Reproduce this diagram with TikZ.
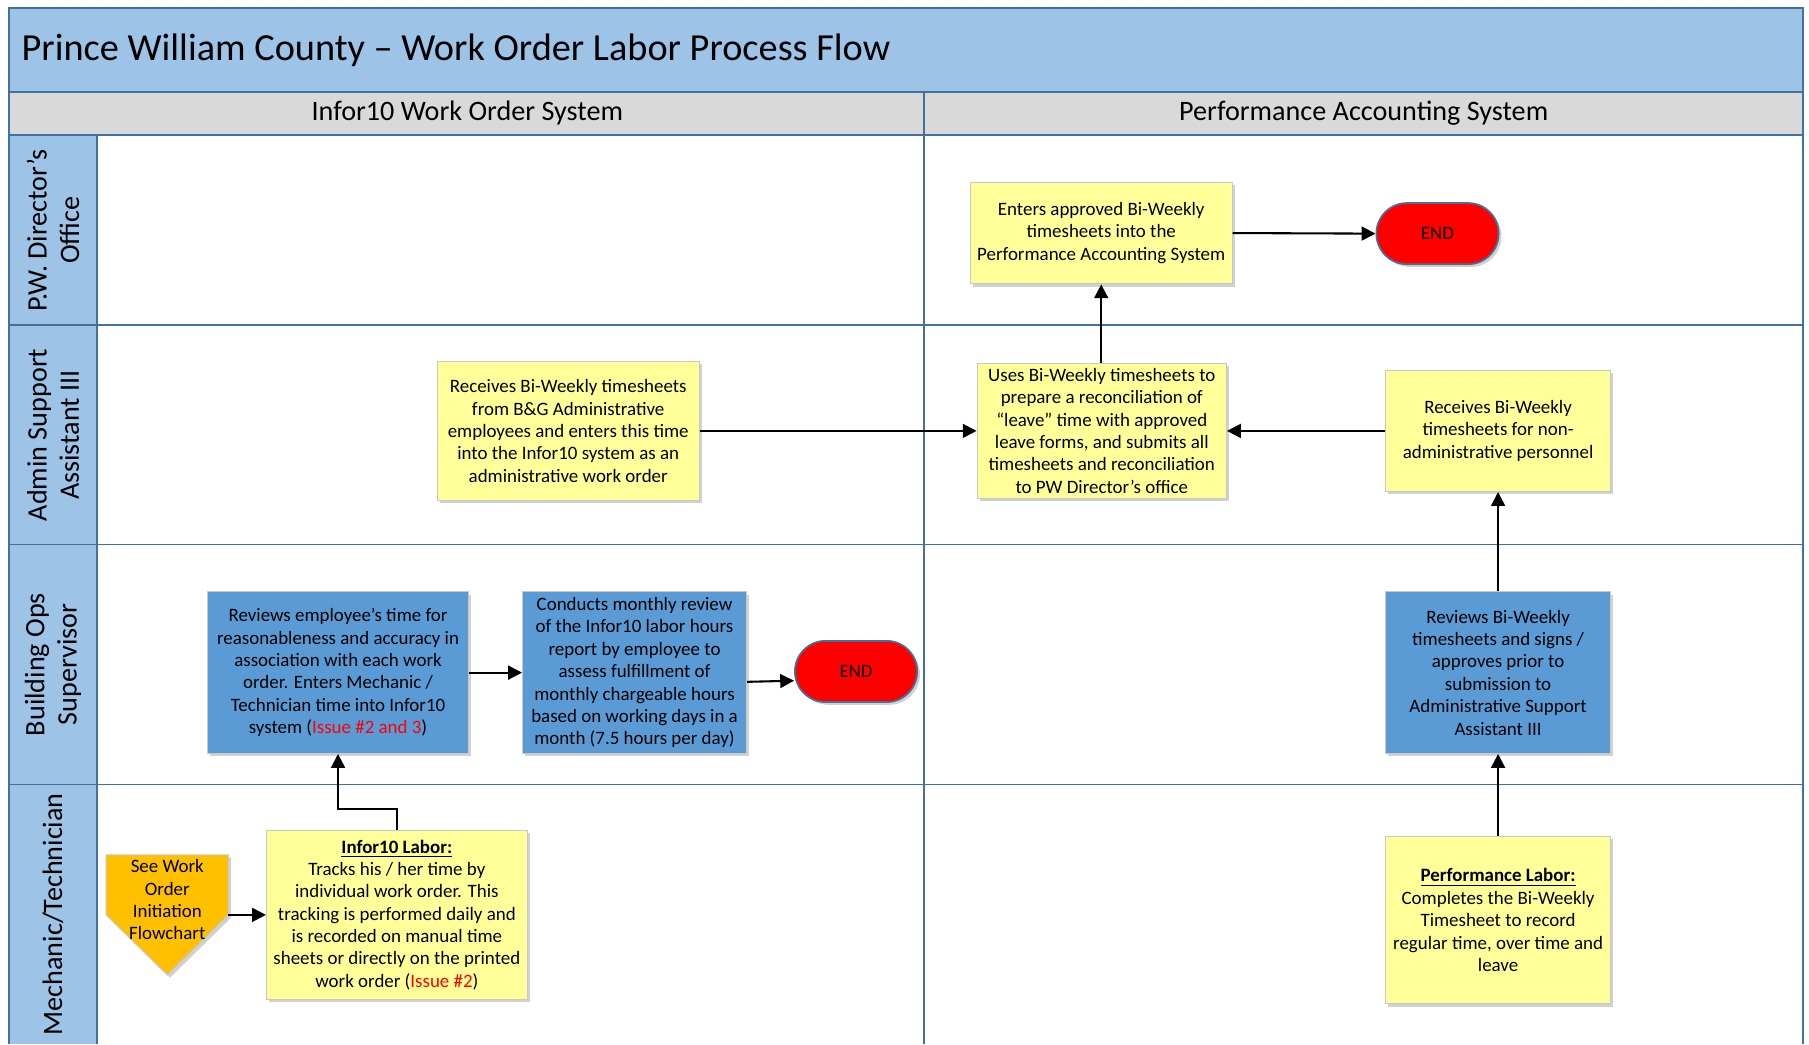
\documentclass[tikz,border=0pt]{standalone}
\usepackage{fontspec}
\setmainfont{Carlito}
\usetikzlibrary{shadows,arrows.meta,shapes.misc}

\definecolor{laneblue}{RGB}{157,195,230}
\definecolor{framecol}{RGB}{65,113,156}
\definecolor{headgray}{RGB}{217,217,217}
\definecolor{noteyellow}{RGB}{255,255,153}
\definecolor{stepblue}{RGB}{91,155,213}
\definecolor{endred}{RGB}{255,0,0}
\definecolor{offpage}{RGB}{255,192,0}
\definecolor{boxline}{RGB}{200,200,200}
\definecolor{issuered}{RGB}{255,0,0}

\tikzset{every picture/.style={line width=0.75pt}}
\tikzset{
	boxfont/.style={font=\fontsize{8.2}{9.7}\selectfont},
	lanefont/.style={font=\fontsize{12.2}{14}\selectfont},
	flowbox/.style={boxfont, align=center, inner sep=0pt, line width=0.5pt, draw=boxline,
		drop shadow={shadow xshift=1.2pt, shadow yshift=-1.2pt, opacity=0.18, fill=black}},
	yellowbox/.style={flowbox, fill=noteyellow},
	bluebox/.style={flowbox, fill=stepblue},
	endbox/.style={rounded rectangle, draw=framecol, fill=endred, line width=0.75pt, boxfont,
		minimum width=53pt, minimum height=26.5pt, inner sep=0pt,
		drop shadow={shadow xshift=1.2pt, shadow yshift=-1.2pt, opacity=0.18, fill=black}},
	flowarrow/.style={-{Triangle[length=6pt,width=6pt]}, line width=0.9pt}
}

\begin{document}
\begin{tikzpicture}[x=0.5pt,y=0.5pt,yscale=-1,xscale=1]
	\useasboundingbox (0,0) rectangle (1568,905);

	%Shape: Title band and header row
	\fill [laneblue] (8,7) rectangle (1563,80);
	\fill [headgray] (8,80) rectangle (1563,117);
	\fill [laneblue] (8,117) rectangle (84,905);
	%Straight Lines: swimlane frame
	\draw [framecol, line width=1pt] (8,905) -- (8,7) -- (1563,7) -- (1563,905);
	\draw [framecol] (8,80) -- (1563,80);
	\draw [framecol] (8,117) -- (1563,117);
	\draw [framecol] (8,282) -- (1563,282);
	\draw [framecol] (8,472) -- (1563,472);
	\draw [framecol] (8,680) -- (1563,680);
	\draw [framecol] (84,117) -- (84,905);
	\draw [framecol] (801,80) -- (801,905);

	% Text Node
	\node [anchor=west, inner sep=0pt, font=\fontsize{16.6}{19}\selectfont] (title) at (18,44) {Prince William County -- Work Order Labor Process Flow};
	% Text Node
	\node [lanefont] (infor) at (405,98) {Infor10 Work Order System};
	% Text Node
	\node [lanefont] (perf) at (1182,98) {Performance Accounting System};
	% Text Node
	\node [lanefont, rotate=90, align=center] (lanepw) at (46,199.5) {P.W. Director’s\\Office};
	% Text Node
	\node [lanefont, rotate=90, align=center] (laneadmin) at (46,377) {Admin Support\\Assistant III};
	% Text Node
	\node [lanefont, rotate=90, align=center] (laneops) at (46,576) {Building Ops\\Supervisor};
	% Text Node
	\node [lanefont, rotate=90, align=center] (lanemech) at (46,792.5) {Mechanic/Technician};

	%Shape: P.W. Director's Office lane
	\node [yellowbox, minimum width=113.5pt, minimum height=44pt] (enters) at (954.5,202)
		{Enters approved Bi-Weekly\\timesheets into the\\Performance Accounting System};
	\node [endbox] (endtop) at (1246,202.5) {END};

	%Shape: Admin Support Assistant III lane
	\node [yellowbox, minimum width=113.5pt, minimum height=60.5pt] (recvbg) at (492.5,373.5)
		{Receives Bi-Weekly timesheets\\from B\&G Administrative\\employees and enters this time\\into the Infor10 system as an\\administrative work order};
	\node [yellowbox, minimum width=108pt, minimum height=58.5pt] (uses) at (955,373.5)
		{Uses Bi-Weekly timesheets to\\prepare a reconciliation of\\“leave” time with approved\\leave forms, and submits all\\timesheets and reconciliation\\to PW Director’s office};
	\node [yellowbox, minimum width=97.5pt, minimum height=52.5pt] (recvna) at (1298.5,373.5)
		{Receives Bi-Weekly\\timesheets for non-\\administrative personnel};

	%Shape: Building Ops Supervisor lane
	\node [bluebox, minimum width=113pt, minimum height=70pt] (reviewemp) at (293,583)
		{Reviews employee’s time for\\reasonableness and accuracy in\\association with each work\\order. Enters Mechanic /\\Technician time into Infor10\\system (\textcolor{issuered}{Issue \#2 and 3})};
	\node [bluebox, minimum width=97pt, minimum height=70pt] (conducts) at (550,583)
		{Conducts monthly review\\of the Infor10 labor hours\\report by employee to\\assess fulfillment of\\monthly chargeable hours\\based on working days in a\\month (7.5 hours per day)};
	\node [endbox] (endmid) at (742,582) {END};
	\node [bluebox, minimum width=97.5pt, minimum height=70pt] (reviewbw) at (1298.5,583)
		{Reviews Bi-Weekly\\timesheets and signs /\\approves prior to\\submission to\\Administrative Support\\Assistant III};

	%Shape: Mechanic/Technician lane
	\draw [fill=offpage, draw=boxline, line width=0.5pt,
		drop shadow={shadow xshift=1.2pt, shadow yshift=-1.2pt, opacity=0.18, fill=black}]
		(92,741) -- (198,741) -- (198,793) -- (145,845) -- (92,793) -- cycle;
	\node [boxfont, align=center] (seewo) at (145,780) {See Work\\Order\\Initiation\\Flowchart};
	\coordinate (seewo-out) at (198,793);
	\node [yellowbox, minimum width=113pt, minimum height=73pt] (inforlab) at (344,793)
		{\textbf{\underline{Infor10 Labor:}}\\Tracks his / her time by\\individual work order. This\\tracking is performed daily and\\is recorded on manual time\\sheets or directly on the printed\\work order (\textcolor{issuered}{Issue \#2})};
	\node [yellowbox, minimum width=97.5pt, minimum height=72.5pt] (perflab) at (1298.5,797.5)
		{\textbf{\underline{Performance Labor:}}\\Completes the Bi-Weekly\\Timesheet to record\\regular time, over time and\\leave};

	%Straight Lines: connectors
	\draw [flowarrow] (enters.east) -- (endtop.west);
	\draw [flowarrow] (uses.north -| enters.south) -- (enters.south);
	\draw [flowarrow] (recvbg.east) -- (uses.west);
	\draw [flowarrow] (recvna.west) -- (uses.east);
	\draw [flowarrow] (reviewbw.north) -- (recvna.south);
	\draw [flowarrow] (perflab.north) -- (reviewbw.south);
	\draw [flowarrow] (reviewemp.east) -- (conducts.west);
	\draw [flowarrow] ([yshift=4pt]conducts.east) -- ([yshift=4pt]endmid.west);
	\draw [flowarrow] (inforlab.north) -- ++(0,-18) -| (reviewemp.south);
	\draw [flowarrow] (seewo-out) -- (seewo-out -| inforlab.west);

\end{tikzpicture}
\end{document}
